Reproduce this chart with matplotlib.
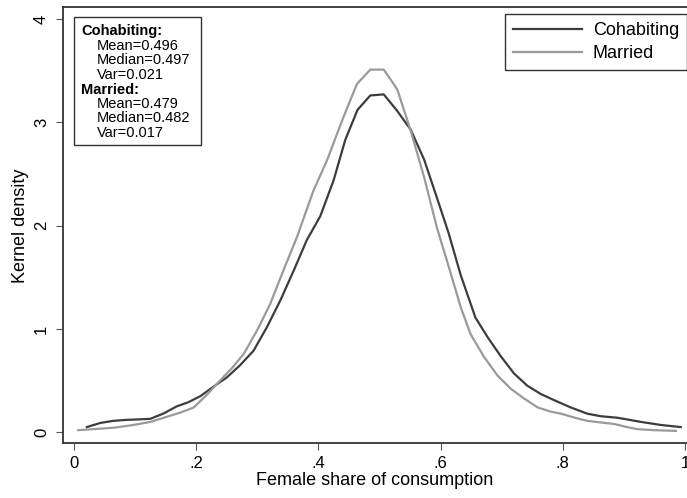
import matplotlib
matplotlib.use("Agg")
import matplotlib.pyplot as plt
from matplotlib.patches import Rectangle

plt.rcParams['font.family'] = ['Liberation Sans', 'DejaVu Sans']

# kernel density estimates, female share of consumption
coh_x = [0.021, 0.043, 0.064, 0.086, 0.108, 0.125, 0.146, 0.168, 0.187, 0.207,
         0.228, 0.250, 0.272, 0.294, 0.316, 0.338, 0.360, 0.381, 0.403, 0.425,
         0.444, 0.464, 0.485, 0.507, 0.529, 0.551, 0.573, 0.594, 0.613, 0.633,
         0.657, 0.677, 0.698, 0.720, 0.742, 0.764, 0.786, 0.813, 0.840, 0.862,
         0.890, 0.928, 0.961, 0.993]
coh_y = [0.05, 0.09, 0.11, 0.12, 0.125, 0.13, 0.18, 0.25, 0.29, 0.35,
         0.44, 0.53, 0.65, 0.79, 1.02, 1.28, 1.57, 1.86, 2.09, 2.44,
         2.83, 3.12, 3.26, 3.27, 3.11, 2.93, 2.64, 2.27, 1.93, 1.52,
         1.11, 0.92, 0.74, 0.57, 0.45, 0.37, 0.31, 0.24, 0.18, 0.155,
         0.14, 0.10, 0.07, 0.05]

mar_x = [0.007, 0.032, 0.067, 0.097, 0.125, 0.152, 0.174, 0.196, 0.217, 0.239,
         0.260, 0.278, 0.300, 0.321, 0.343, 0.365, 0.392, 0.414, 0.441, 0.463,
         0.485, 0.507, 0.529, 0.551, 0.573, 0.594, 0.616, 0.633, 0.649, 0.671,
         0.693, 0.715, 0.737, 0.759, 0.780, 0.797, 0.820, 0.840, 0.862, 0.884,
         0.905, 0.922, 0.950, 0.985]
mar_y = [0.02, 0.03, 0.045, 0.07, 0.10, 0.15, 0.19, 0.24, 0.36, 0.50,
         0.63, 0.76, 0.99, 1.24, 1.57, 1.89, 2.34, 2.63, 3.05, 3.37,
         3.51, 3.51, 3.32, 2.92, 2.47, 1.98, 1.55, 1.21, 0.95, 0.73,
         0.55, 0.42, 0.325, 0.24, 0.20, 0.18, 0.14, 0.11, 0.095, 0.08,
         0.05, 0.03, 0.02, 0.013]

x_ticks = [0, 0.2, 0.4, 0.6, 0.8, 1.0]
x_ticklabels = ['0', '.2', '.4', '.6', '.8', '1']
y_ticks = [0, 1, 2, 3, 4]

stats_lines = [
    ('Cohabiting:', True),
    ('Mean=0.496', False),
    ('Median=0.497', False),
    ('Var=0.021', False),
    ('Married:', True),
    ('Mean=0.479', False),
    ('Median=0.482', False),
    ('Var=0.017', False),
]

W, H = 687, 498
fig = plt.figure(figsize=(W / 100, H / 100), dpi=100)
ax = fig.add_axes([63 / W, 1 - 443.3 / H, 1 - 63 / W, (443.3 - 7.5) / H])

ax.plot(coh_x, coh_y, color='#3d3d3d', lw=1.6, label='Cohabiting')
ax.plot(mar_x, mar_y, color='#9a9a9a', lw=1.6, label='Married')

ax.set_xlim(-0.018, 1.0033)
ax.set_ylim(-0.107, 4.111)

ax.set_xticks(x_ticks)
ax.set_xticklabels(x_ticklabels)
ax.set_yticks(y_ticks)
ax.set_yticklabels([str(v) for v in y_ticks], rotation=90, va='center')
ax.tick_params(axis='both', direction='out', length=5, width=0.8,
               color='#555555', labelsize=12, pad=4)
ax.tick_params(axis='y', pad=5)

for side in ['left', 'bottom', 'top']:
    ax.spines[side].set_color('#333333')
    ax.spines[side].set_linewidth(1.3)
ax.spines['right'].set_visible(False)

ax.set_xlabel('Female share of consumption', fontsize=13, labelpad=1)
ax.set_ylabel('Kernel density', fontsize=13, labelpad=4)

leg = ax.legend(loc='upper right', bbox_to_anchor=(1.0, 1 - 14.3 / H),
                bbox_transform=fig.transFigure, borderaxespad=0,
                fontsize=13, handlelength=3.8, handletextpad=0.6,
                borderpad=0.45, labelspacing=0.3, fancybox=False,
                framealpha=1)
leg.get_frame().set_edgecolor('#333333')
leg.get_frame().set_linewidth(1.0)

# summary statistics box
fig.patches.append(Rectangle((74 / W, 1 - 145 / H), (201 - 74) / W, (145 - 16.7) / H,
                             transform=fig.transFigure, fill=False,
                             edgecolor='#333333', lw=1.0))
for i, (txt, bold) in enumerate(stats_lines):
    xp = 81 if bold else 96.5
    yp = 31.5 + 14.5 * i
    fig.text(xp / W, 1 - yp / H, txt, fontsize=10.5, va='center', ha='left',
             fontweight='bold' if bold else 'normal')

fig.savefig('out.png', dpi=100)
